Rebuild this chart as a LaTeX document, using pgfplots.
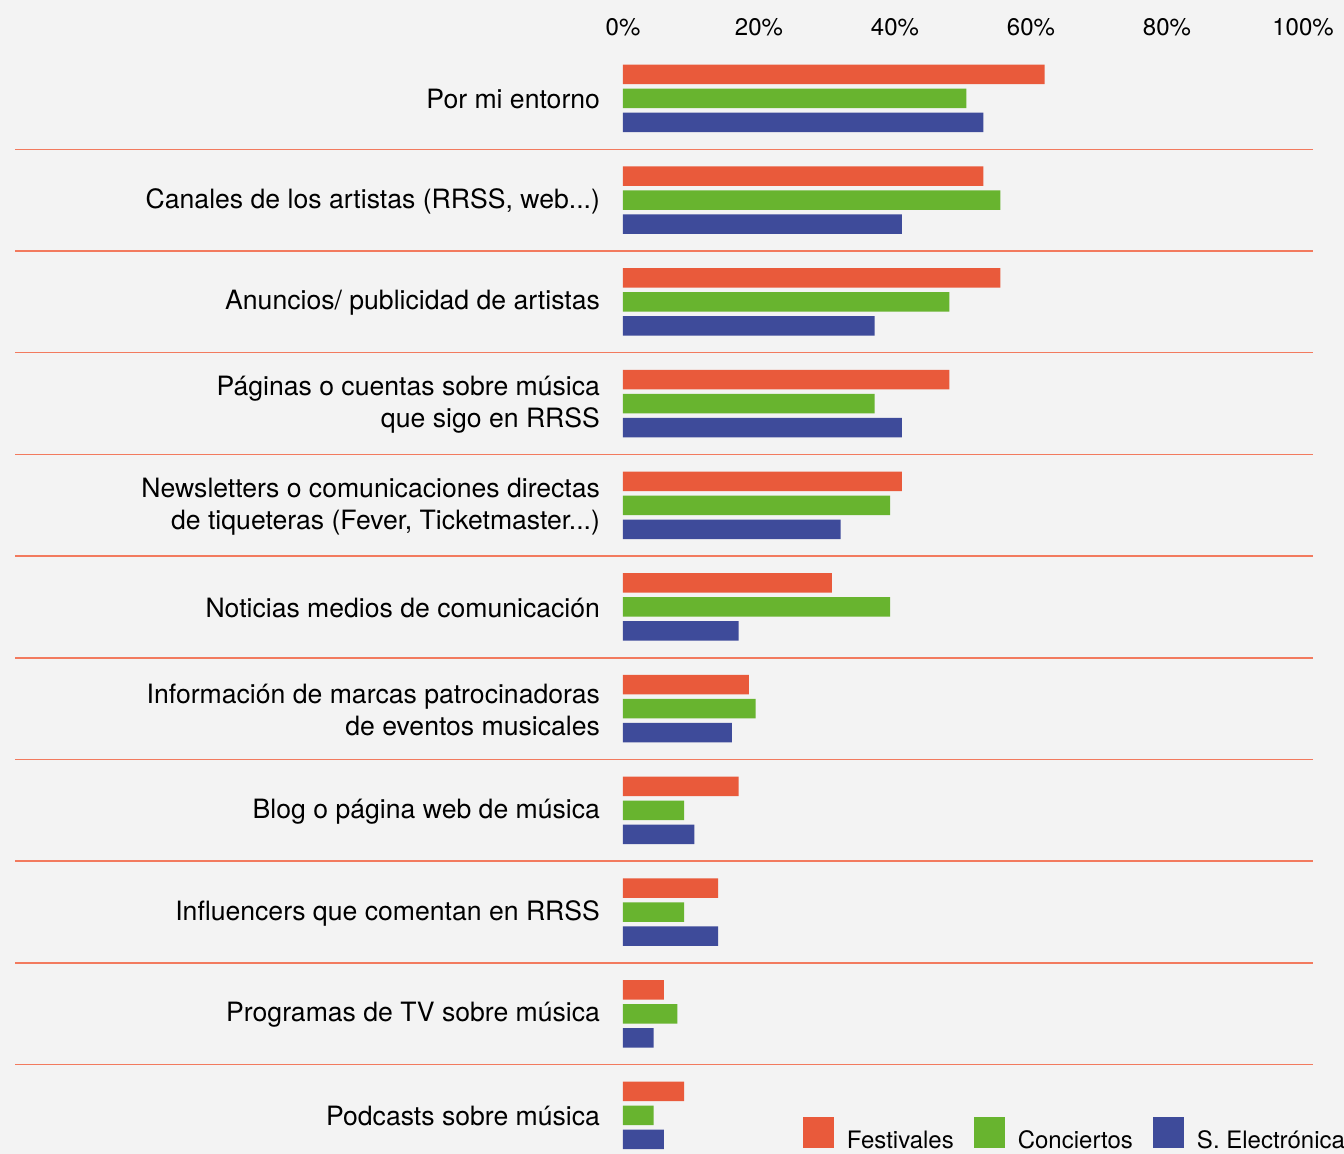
\documentclass[border=0pt]{standalone}
\usepackage{fontspec}
\setmainfont{TeX Gyre Heros}
\usepackage{pgfplots}
\pgfplotsset{compat=1.18}
\definecolor{cF}{HTML}{E95A3B}
\definecolor{cC}{HTML}{68B42F}
\definecolor{cS}{HTML}{3E4B9A}
\definecolor{sepc}{HTML}{F27A5E}
\definecolor{bg}{HTML}{F3F3F3}
\newcommand{\dd}{{.}{.}{.}}
\pgfplotsset{sqlegend/.style={legend image code/.code={\fill[##1] (0pt,-3.5pt) rectangle (15.5pt,12pt);}}}
\begin{document}
\begin{tikzpicture}
\fill[bg] (0,0) rectangle (672pt,-577pt);
\useasboundingbox (0,0) rectangle (672pt,-577pt);
\begin{axis}[
  at={(311.5pt,-22.5pt)}, anchor=north west,
  scale only axis, width=340pt, height=554.5pt,
  xmin=0, xmax=100, ymin=-10.379, ymax=0.526,
  xbar, bar width=9.75pt,
  axis line style={draw=none},
  major tick length=0pt,
  xtick={0,20,40,60,80,100},
  xticklabel pos=right,
  xticklabel={\pgfmathprintnumber{\tick}\%},
  xticklabel style={font=\fontsize{12}{14}\selectfont, /pgf/number format/assume math mode=true, yshift=1pt},
  ytick={-10,-9,-8,-7,-6,-5,-4,-3,-2,-1,0},
  yticklabels={
    {Podcasts sobre música},
    {Programas de TV sobre música},
    {Influencers que comentan en RRSS},
    {Blog o página web de música},
    {Información de marcas patrocinadoras\\de eventos musicales},
    {Noticias medios de comunicación},
    {Newsletters o comunicaciones directas\\de tiqueteras (Fever, Ticketmaster\dd)},
    {Páginas o cuentas sobre música\\que sigo en RRSS},
    {Anuncios/ publicidad de artistas},
    {Canales de los artistas (RRSS, web\dd)},
    {Por mi entorno}},
  yticklabel style={font=\fontsize{13.3}{16}\selectfont, align=right, xshift=-8pt, yshift=-0.5pt},
  clip=false,
  legend columns=-1,
  legend style={at={(axis cs:26.47,-10.355)}, anchor=south west, draw=none, fill=none,
    inner sep=0pt, outer sep=0pt, font=\fontsize{12}{14}\selectfont,
    nodes={inner sep=0pt},
    /tikz/every odd column/.append style={column sep=6.5pt},
    /tikz/every even column/.append style={column sep=10pt}},
]
\pgfplotsinvokeforeach{0,1,2,3,4,5,6,7,8,9}{
  \draw[sepc, line width=0.75pt] (axis cs:-89.4,{-#1-0.5}) -- (axis cs:101.5,{-#1-0.5});
}
\addplot[fill=cF, draw=none, bar shift=12pt, sqlegend]
  coordinates {(62,0) (53,-1) (55.5,-2) (48,-3) (41,-4) (30.7,-5) (18.5,-6) (17,-7) (14,-8) (6,-9) (9,-10)};
\addplot[fill=cC, draw=none, bar shift=0pt, sqlegend]
  coordinates {(50.5,0) (55.5,-1) (48,-2) (37,-3) (39.3,-4) (39.3,-5) (19.5,-6) (9,-7) (9,-8) (8,-9) (4.5,-10)};
\addplot[fill=cS, draw=none, bar shift=-12pt, sqlegend]
  coordinates {(53,0) (41,-1) (37,-2) (41,-3) (32,-4) (17,-5) (16,-6) (10.5,-7) (14,-8) (4.5,-9) (6,-10)};
\legend{Festivales, Conciertos, S. Electrónica}
\end{axis}
\end{tikzpicture}
\end{document}
